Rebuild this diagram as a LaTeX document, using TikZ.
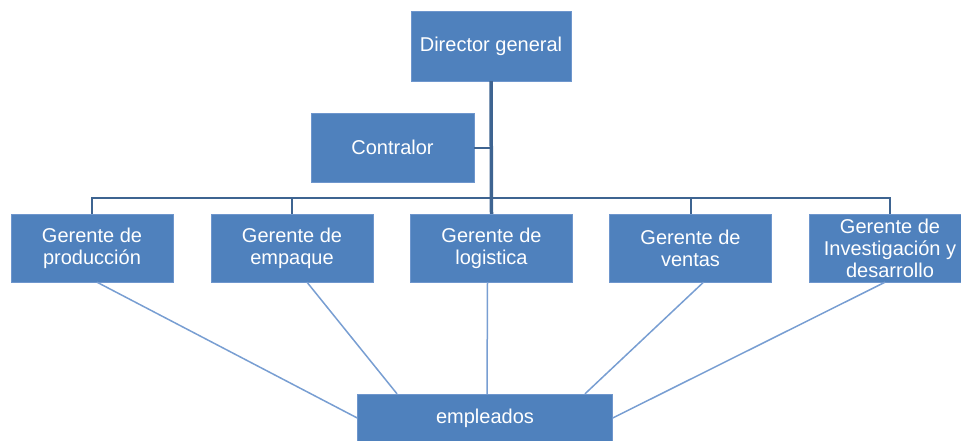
\documentclass[tikz,border=0pt]{standalone}
\usepackage{fontspec}
\setmainfont{Liberation Sans}
\definecolor{cajaazul}{RGB}{79,129,189}
\definecolor{bordeazul}{RGB}{110,150,205}
\definecolor{lineaoscura}{RGB}{62,100,145}
\definecolor{lineaclara}{RGB}{120,158,210}

\begin{document}
\begin{tikzpicture}[x=1pt, y=-1pt,
    puesto/.style={draw=bordeazul, fill=cajaazul, text=white, align=center,
        minimum width=162pt, minimum height=68pt, inner sep=1pt,
        font=\fontsize{20}{22}\selectfont},
    tronco/.style={draw=lineaoscura, line width=3.5pt},
    rama/.style={draw=lineaoscura, line width=2pt},
    enlace/.style={draw=lineaclara, line width=1.5pt}]
        \useasboundingbox (0,0) rectangle (961,440);

        % Direccion
        \node[puesto, minimum width=160pt, minimum height=70pt] (director) at (491,46) {Director general};
        \node[puesto, minimum width=163pt, minimum height=69pt] (contralor) at (392.5,147.5) {Contralor};

        % Gerentes
        \node[puesto] (gprod) at (92,248) {Gerente de\\producción};
        \node[puesto] (gemp) at (292,248) {Gerente de\\empaque};
        \node[puesto] (glog) at (491.5,248) {Gerente de\\logistica};
        \node[puesto] (gvent) at (690.5,248) {Gerente de\\ventas};
        \node[puesto] (ginv) at (890,248) {Gerente de\\Investigación y\\desarrollo};

        % Empleados
        \node[puesto, minimum width=255pt, minimum height=48pt] (empleados) at (485,418) {empleados};

        % Organigrama
        \draw[rama] (gprod.north) -- ++(0,-16) -| (ginv.north);
        \foreach \g in {gemp,gvent} {
            \draw[rama] (\g.north) -- ++(0,-16);
        }
        \draw[rama] (contralor.east) -- (contralor.east -| director.south);
        \draw[tronco] (director.south) -- (glog.north);

        % Lineas a empleados
        \draw[enlace] ([xshift=5pt]gprod.south) -- (empleados.west);
        \draw[enlace] ([xshift=15pt]gemp.south) -- ([xshift=-88pt]empleados.north);
        \draw[enlace] ([xshift=-4pt]glog.south) -- ([xshift=2pt]empleados.north);
        \draw[enlace] ([xshift=13pt]gvent.south) -- ([xshift=100pt]empleados.north);
        \draw[enlace] ([xshift=-5pt]ginv.south) -- (empleados.east);
    \end{tikzpicture}
\end{document}
